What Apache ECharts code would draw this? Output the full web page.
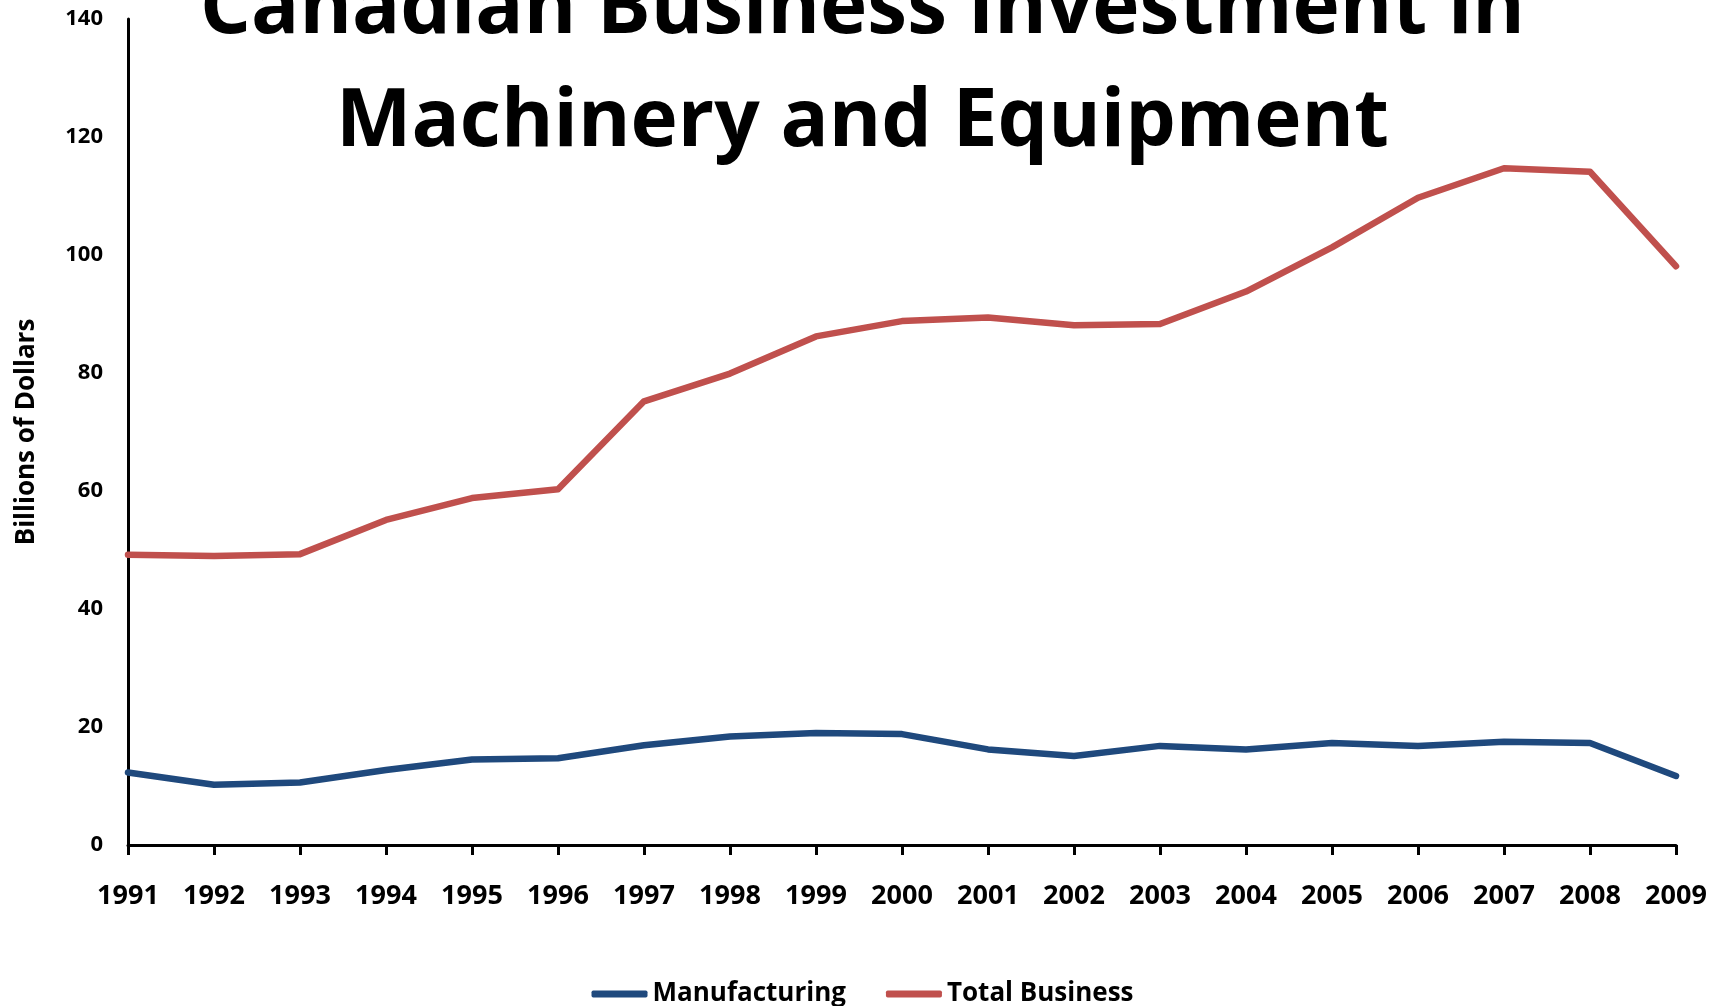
<!DOCTYPE html>
<html>
<head>
<meta charset="utf-8">
<title>Canadian Business Investment in Machinery and Equipment</title>
<script src="https://cdn.jsdelivr.net/npm/echarts@6/dist/echarts.min.js"></script>
<style>
    html, body { margin: 0; padding: 0; background: #fff; }
    #main { width: 1725px; height: 1006px; }
</style>
</head>
<body>
<div id="main"></div>
<script>
// years on the x axis
var years = ['1991', '1992', '1993', '1994', '1995', '1996', '1997', '1998', '1999', '2000',
    '2001', '2002', '2003', '2004', '2005', '2006', '2007', '2008', '2009'];
// billions of dollars
var manufacturing = [12.3, 10.2, 10.6, 12.7, 14.5, 14.7, 16.9, 18.4, 19.0, 18.8,
    16.2, 15.1, 16.8, 16.2, 17.3, 16.8, 17.5, 17.3, 11.7];
var totalBusiness = [49.2, 49.0, 49.3, 55.1, 58.8, 60.3, 75.2, 79.9, 86.2, 88.8,
    89.4, 88.1, 88.3, 93.8, 101.3, 109.7, 114.7, 114.1, 98.1];
var seriesNames = ['Manufacturing', 'Total Business'];
var colors = ['#1F497D', '#C0504D'];

var font = '"Open Sans", "Liberation Sans", sans-serif';

var mkLine = function(_name, _data, _color) {
    return {
        name: _name,
        type: 'line',
        data: _data,
        showSymbol: false,
        symbol: 'none',
        color: _color,
        lineStyle: { width: 6.5, color: _color, cap: 'round', join: 'round' }
    };
};

var chart = echarts.init(document.getElementById('main'), null, { renderer: 'canvas' });
chart.setOption({
    animation: false,
    backgroundColor: '#fff',
    title: {
        text: 'Canadian Business Investment in\nMachinery and Equipment',
        left: 'center',
        top: -46,
        padding: 0,
        textStyle: {
            fontFamily: font,
            fontWeight: 'bold',
            fontSize: 80,
            lineHeight: 113,
            color: '#000'
        }
    },
    grid: { left: 128, right: 49, top: 19, bottom: 161, containLabel: false },
    legend: {
        data: seriesNames,
        left: 'center',
        top: 976,
        itemWidth: 56,
        itemHeight: 7,
        itemGap: 40,
        icon: 'roundRect',
        textStyle: { fontFamily: font, fontWeight: 'bold', fontSize: 26, color: '#000' }
    },
    xAxis: {
        type: 'category',
        data: years,
        boundaryGap: false,
        axisLine: { lineStyle: { color: '#000', width: 3 } },
        axisTick: { show: true, length: 10, lineStyle: { color: '#000', width: 3 } },
        axisLabel: { margin: 38, interval: 0, fontFamily: font, fontWeight: 'bold', fontSize: 27, color: '#000' },
        splitLine: { show: false }
    },
    yAxis: {
        type: 'value',
        min: 0,
        max: 140,
        interval: 20,
        name: 'Billions of Dollars',
        nameLocation: 'middle',
        nameRotate: 90,
        nameGap: 88,
        nameTextStyle: { fontFamily: font, fontWeight: 'bold', fontSize: 26, color: '#000' },
        axisLine: { show: true, lineStyle: { color: '#000', width: 3 } },
        axisTick: { show: false },
        axisLabel: { margin: 25, fontFamily: font, fontWeight: 'bold', fontSize: 22, color: '#000' },
        splitLine: { show: false }
    },
    series: [
        mkLine(seriesNames[0], manufacturing, colors[0]),
        mkLine(seriesNames[1], totalBusiness, colors[1])
    ]
});
</script>
</body>
</html>
